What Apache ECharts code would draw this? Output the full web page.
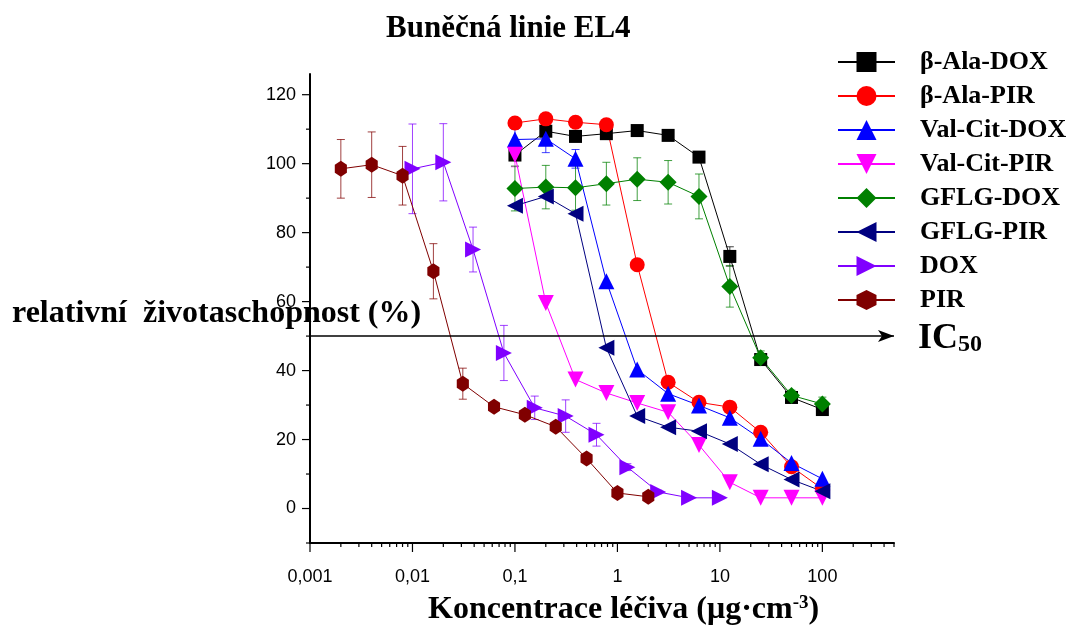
<!DOCTYPE html>
<html>
<head>
<meta charset="utf-8">
<script src="https://cdn.jsdelivr.net/npm/echarts@6/dist/echarts.min.js"></script>
<style>
  html, body { margin: 0; padding: 0; background: #fff; }
  #chart { width: 1072px; height: 627px; }
</style>
</head>
<body>
<div id="chart"></div>
<script>
// concentrations (ug/cm3)
const concConj = [0.1, 0.2, 0.39, 0.78, 1.56, 3.125, 6.25, 12.5, 25, 50, 100];
const concDOX = [0.01, 0.02, 0.039, 0.078, 0.156, 0.3125, 0.625, 1.25, 2.5, 5, 10];
const concPIR = [0.002, 0.004, 0.008, 0.016, 0.031, 0.0625, 0.125, 0.25, 0.5, 1, 2];

// viability (%)
const betaAlaDOX = [102.5, 109.4, 107.9, 108.7, 109.6, 108.2, 101.9, 73.1, 43.2, 32.2, 28.7];
const betaAlaPIR = [111.8, 113.0, 112.0, 111.3, 70.7, 36.6, 30.8, 29.4, 22.1, 12.1, 5.7];
const valCitDOX = [107.0, 107.2, 101.4, 65.9, 40.3, 33.3, 29.9, 26.3, 20.2, 13.2, 8.6];
const valCitPIR = [102.6, 59.6, 37.4, 33.5, 30.6, 27.9, 18.4, 7.6, 3.1, 3.1, 3.1];
const gflgDOX = [92.8, 93.2, 93.0, 94.2, 95.5, 94.6, 90.5, 64.4, 43.7, 32.8, 30.3];
const gflgPIR = [87.8, 90.5, 85.5, 46.6, 26.8, 23.6, 22.4, 18.7, 12.8, 8.4, 5.0];
const freeDOX = [98.5, 100.4, 75.1, 45.1, 29.2, 26.8, 21.4, 12.0, 4.8, 3.1, 3.1];
const freePIR = [98.5, 99.7, 96.5, 68.8, 36.2, 29.5, 27.2, 23.7, 14.5, 4.5, 3.4];

// error bars (+/-)
const errBetaAlaDOX = [1.5, 2, 0.5, 0, 0, 0, 0, 2.8, 1, 1, 1];
const errBetaAlaPIR = [0, 0, 0, 0, 0, 0, 0, 0, 0, 0, 0];
const errValCitDOX = [3, 4, 2.7, 0, 0, 0, 0, 0, 0, 0, 0];
const errValCitPIR = [3.5, 0, 0, 0, 0, 0, 0, 0, 0, 0, 0];
const errGflgDOX = [6.5, 6.3, 6.5, 6.2, 6.2, 6.3, 6.5, 6, 2, 1.5, 2];
const errGflgPIR = [0, 0, 0, 0, 0, 0, 0, 0, 0, 0, 0];
const errFreeDOX = [13, 11.2, 6.5, 8, 3.4, 4.7, 3.3, 1, 0.5, 0, 0];
const errFreePIR = [8.5, 9.5, 8.5, 8, 4.5, 0, 0, 0, 0, 0, 0];

const seriesNames = ['β-Ala-DOX', 'β-Ala-PIR', 'Val-Cit-DOX', 'Val-Cit-PIR', 'GFLG-DOX', 'GFLG-PIR', 'DOX', 'PIR'];

// axis ticks
const xMajorTicks = [0.001, 0.01, 0.1, 1, 10, 100];
const xMinorSteps = [2, 3, 4, 5, 6, 7, 8, 9];
const yMajorTicks = [0, 20, 40, 60, 80, 100, 120];
const yMinorTicks = [-10, 10, 30, 50, 70, 90, 110];

const X_MIN = 0.001, X_MAX = 500, Y_MIN = -10, Y_MAX = 126;
const serif = 'Liberation Serif';
const sans = 'Liberation Sans';

const hexagon = 'path://M0,-10L8.66,-5L8.66,5L0,10L-8.66,5L-8.66,-5Z';

const defs = [
  { x: concConj, y: betaAlaDOX, err: errBetaAlaDOX, color: '#000000', symbol: 'rect', size: 13, rot: 0 },
  { x: concConj, y: betaAlaPIR, err: errBetaAlaPIR, color: '#ff0000', symbol: 'circle', size: 15, rot: 0 },
  { x: concConj, y: valCitDOX, err: errValCitDOX, color: '#0000ff', symbol: 'triangle', size: 16, rot: 0 },
  { x: concConj, y: valCitPIR, err: errValCitPIR, color: '#ff00ff', symbol: 'triangle', size: 16, rot: 180 },
  { x: concConj, y: gflgDOX, err: errGflgDOX, color: '#008000', symbol: 'diamond', size: 17, rot: 0 },
  { x: concConj, y: gflgPIR, err: errGflgPIR, color: '#000080', symbol: 'triangle', size: 16, rot: 90 },
  { x: concDOX, y: freeDOX, err: errFreeDOX, color: '#8000ff', symbol: 'triangle', size: 16, rot: -90 },
  { x: concPIR, y: freePIR, err: errFreePIR, color: '#800000', symbol: hexagon, size: [14, 16], rot: 0 }
];

const chart = echarts.init(document.getElementById('chart'));

const lineSeries = defs.map((d, i) => ({
  name: seriesNames[i],
  type: 'line',
  data: d.x.map((c, j) => [c, d.y[j]]),
  symbol: d.symbol,
  symbolSize: d.size,
  symbolRotate: d.rot,
  symbolKeepAspect: true,
  showAllSymbol: true,
  color: d.color,
  lineStyle: { width: 1, color: d.color },
  itemStyle: { color: d.color },
  z: 3
}));

const errorSeries = defs.map((d, i) => ({
  name: seriesNames[i] + ' err',
  type: 'custom',
  data: d.x.map((c, j) => [c, d.y[j], d.err[j]]),
  z: 2,
  silent: true,
  renderItem: (params, api) => {
    const e = api.value(2);
    if (!e) return null;
    const x = api.value(0), y = api.value(1);
    const top = api.coord([x, y + e]);
    const bot = api.coord([x, y - e]);
    const w = 4;
    const style = { stroke: d.color, lineWidth: 1, opacity: 0.75 };
    return {
      type: 'group',
      children: [
        { type: 'line', shape: { x1: top[0], y1: top[1], x2: bot[0], y2: bot[1] }, style },
        { type: 'line', shape: { x1: top[0] - w, y1: top[1], x2: top[0] + w, y2: top[1] }, style },
        { type: 'line', shape: { x1: bot[0] - w, y1: bot[1], x2: bot[0] + w, y2: bot[1] }, style }
      ]
    };
  }
}));

// tick marks drawn on the log / value axes
const tickData = [];
xMajorTicks.forEach(v => tickData.push([v, Y_MIN, 0, 9]));
xMajorTicks.forEach(dec => xMinorSteps.forEach(s => {
  const v = dec * s;
  if (v <= X_MAX) tickData.push([v, Y_MIN, 0, 4]);
}));
yMajorTicks.forEach(v => tickData.push([X_MIN, v, 1, 8]));
yMinorTicks.forEach(v => tickData.push([X_MIN, v, 1, 4]));

const tickSeries = {
  type: 'custom',
  name: 'ticks',
  silent: true,
  clip: false,
  data: tickData,
  z: 5,
  renderItem: (params, api) => {
    const p = api.coord([api.value(0), api.value(1)]);
    const len = api.value(3);
    const horiz = api.value(2) === 1;
    return {
      type: 'line',
      shape: horiz
        ? { x1: p[0] - len, y1: p[1], x2: p[0], y2: p[1] }
        : { x1: p[0], y1: p[1], x2: p[0], y2: p[1] + len },
      style: { stroke: '#000', lineWidth: 1.2 }
    };
  }
};

const ic50Series = {
  name: 'IC50',
  type: 'line',
  data: [],
  markLine: {
    silent: true,
    symbol: ['none', 'arrow'],
    symbolSize: [9, 16],
    label: { show: false },
    lineStyle: { color: '#000', width: 1.5, type: 'solid' },
    data: [[{ coord: [X_MIN, 50] }, { coord: [X_MAX, 50] }]]
  }
};

const option = {
  backgroundColor: '#fff',
  animation: false,
  title: {
    text: 'Buněčná linie EL4',
    left: 381,
    top: 8,
    textStyle: { fontFamily: serif, fontWeight: 'bold', fontSize: 31, color: '#000' }
  },
  grid: { left: 310, top: 74, width: 584, height: 469 },
  legend: {
    orient: 'vertical',
    left: 837,
    top: 49,
    padding: 0,
    itemWidth: 57,
    itemHeight: 25,
    itemGap: 8,
    data: seriesNames,
    textStyle: { fontFamily: serif, fontWeight: 'bold', fontSize: 26, color: '#000', padding: [0, 0, 0, 20] }
  },
  xAxis: {
    type: 'log',
    logBase: 10,
    min: X_MIN,
    max: X_MAX,
    axisLine: { onZero: false, lineStyle: { color: '#000', width: 2 } },
    axisTick: { show: false },
    splitLine: { show: false },
    axisLabel: {
      showMaxLabel: false,
      margin: 25,
      color: '#000',
      fontFamily: sans,
      fontSize: 18,
      formatter: v => String(Number(v.toPrecision(6))).replace('.', ',')
    }
  },
  yAxis: {
    type: 'value',
    min: Y_MIN,
    max: Y_MAX,
    interval: 10,
    axisLine: { show: true, onZero: false, lineStyle: { color: '#000', width: 2 } },
    axisTick: { show: false },
    splitLine: { show: false },
    axisLabel: {
      showMaxLabel: false,
      margin: 14,
      color: '#000',
      fontFamily: sans,
      fontSize: 18,
      formatter: v => (v % 20 === 0 && v >= 0 ? String(v) : '')
    }
  },
  graphic: [
    {
      type: 'text', left: 12, top: 298, z: 10,
      style: { text: 'relativní  životaschopnost (%)', font: 'bold 32px "Liberation Serif"', fill: '#000' }
    },
    {
      type: 'text', left: 428, top: 594, z: 10,
      style: {
        text: '{a|Koncentrace léčiva (μg·cm}{s|-3}{a|)}',
        fill: '#000',
        rich: {
          a: { fontFamily: serif, fontWeight: 'bold', fontSize: 32, verticalAlign: 'bottom' },
          s: { fontFamily: serif, fontWeight: 'bold', fontSize: 19, verticalAlign: 'top' }
        }
      }
    },
    {
      type: 'text', left: 918, top: 321, z: 10,
      style: {
        text: '{a|IC}{s|50}',
        fill: '#000',
        rich: {
          a: { fontFamily: serif, fontWeight: 'bold', fontSize: 36, verticalAlign: 'top' },
          s: { fontFamily: serif, fontWeight: 'bold', fontSize: 24, verticalAlign: 'bottom' }
        }
      }
    }
  ],
  series: [...errorSeries, ...lineSeries, ic50Series, tickSeries]
};

chart.setOption(option);
</script>
</body>
</html>
